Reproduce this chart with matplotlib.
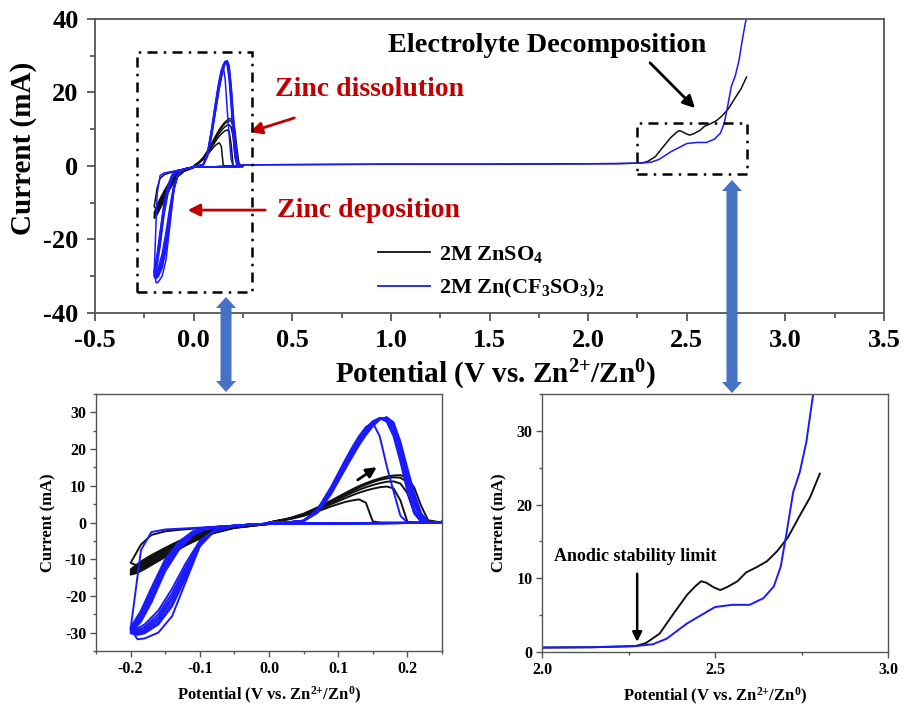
import matplotlib
matplotlib.use("Agg")
import matplotlib.pyplot as plt
from matplotlib.patches import Polygon, Rectangle
from matplotlib.ticker import MultipleLocator

plt.rcParams['font.family'] = ['Liberation Serif', 'DejaVu Serif']
plt.rcParams['font.weight'] = 'bold'
plt.rcParams['mathtext.fontset'] = 'custom'
plt.rcParams['mathtext.rm'] = 'Liberation Serif:bold'
plt.rcParams['mathtext.it'] = 'Liberation Serif:bold:italic'
plt.rcParams['mathtext.bf'] = 'Liberation Serif:bold'
plt.rcParams['mathtext.default'] = 'rm'
plt.rcParams['axes.unicode_minus'] = False

# ---------------- data ----------------
# potential grids of the CV branches (V vs Zn2+/Zn)
CATH_FWD_X = [0.0, -0.03, -0.06, -0.09, -0.11, -0.13, -0.15, -0.17, -0.185, -0.2]
CATH_REV_X = [-0.2, -0.19, -0.18, -0.16, -0.14, -0.12, -0.1, -0.08, -0.05, 0.0]
ANOD_X = [0.0, 0.03, 0.05, 0.07, 0.09, 0.11, 0.12, 0.13, 0.14, 0.15, 0.16,
          0.17, 0.18, 0.19, 0.2, 0.21, 0.22, 0.23, 0.25]
RETURN_X = [0.25, 0.0]
RETURN_I = [-0.1, -0.3]

# 2M ZnSO4, one row per cycle (mA)
ZNSO4_FWD = [
    [-0.3, -0.6, -1.0, -1.4, -1.7, -2.0, -2.4, -3.4, -6.0, -11.0],
    [-0.3, -0.6, -1.2, -2.4, -3.6, -5.1, -6.9, -8.9, -10.6, -12.8],
    [-0.3, -0.6, -1.3, -2.5, -3.8, -5.4, -7.2, -9.3, -11.1, -13.3],
    [-0.3, -0.7, -1.4, -2.7, -4.0, -5.7, -7.6, -9.8, -11.6, -13.8],
    [-0.3, -0.7, -1.4, -2.8, -4.2, -5.9, -7.9, -10.1, -12.0, -14.2],
]
ZNSO4_REV = [
    [-11.0, -11.8, -10.9, -8.3, -6.0, -4.2, -2.8, -1.8, -1.0, -0.4],
    [-12.8, -12.4, -11.5, -9.4, -7.4, -5.5, -3.9, -2.6, -1.3, -0.4],
    [-13.3, -12.8, -11.9, -9.8, -7.7, -5.8, -4.1, -2.7, -1.4, -0.4],
    [-13.8, -13.3, -12.3, -10.1, -8.0, -6.0, -4.3, -2.8, -1.4, -0.4],
    [-14.2, -13.7, -12.7, -10.5, -8.3, -6.2, -4.4, -2.9, -1.5, -0.4],
]
ZNSO4_ANOD = [
    [0.0, 0.9, 1.8, 3.0, 4.4, 5.6, 6.0, 6.3, 5.4, 0.3, 0.0, 0.0, 0.0, 0.0, 0.0, 0.0, 0.0, 0.0, 0.0],
    [0.0, 1.0, 2.0, 3.4, 5.0, 6.6, 7.4, 8.1, 8.7, 9.2, 9.6, 9.8, 9.3, 6.0, 0.2, 0.0, 0.0, 0.0, 0.0],
    [0.0, 1.1, 2.2, 3.7, 5.4, 7.2, 8.1, 8.9, 9.6, 10.2, 10.7, 11.1, 11.2, 10.6, 8.0, 2.5, 0.2, 0.0, 0.0],
    [0.0, 1.1, 2.3, 3.9, 5.7, 7.6, 8.6, 9.5, 10.3, 11.0, 11.6, 12.0, 12.3, 12.2, 11.0, 7.0, 1.5, 0.1, 0.0],
    [0.0, 1.2, 2.4, 4.1, 6.0, 8.0, 9.0, 9.9, 10.7, 11.4, 12.0, 12.5, 12.8, 12.9, 12.2, 9.5, 4.5, 0.6, 0.0],
]

# 2M Zn(CF3SO3)2, one row per cycle (mA)
ZNCF_FWD = [
    [-0.3, -0.6, -1.0, -1.3, -1.5, -1.7, -1.9, -2.6, -7.5, -29.0],
    [-0.3, -0.6, -1.0, -1.3, -2.4, -5.2, -10.0, -17.8, -24.0, -28.6],
    [-0.3, -0.6, -1.0, -1.4, -2.6, -5.6, -10.6, -18.6, -24.6, -29.0],
    [-0.3, -0.6, -1.0, -1.4, -2.8, -6.0, -11.2, -19.4, -25.2, -29.3],
    [-0.3, -0.6, -1.0, -1.5, -3.0, -6.4, -11.8, -20.2, -25.8, -29.6],
    [-0.3, -0.6, -1.1, -1.6, -3.2, -6.9, -12.5, -21.0, -26.4, -29.9],
    [-0.3, -0.6, -1.1, -1.7, -3.5, -7.4, -13.3, -21.8, -27.0, -30.2],
]
ZNCF_REV = [
    [-29.0, -31.8, -31.6, -30.0, -25.5, -16.0, -6.5, -2.4, -0.8, -0.3],
    [-28.6, -28.8, -27.8, -24.0, -18.0, -11.0, -5.0, -2.2, -0.9, -0.3],
    [-29.0, -29.3, -28.5, -25.0, -19.2, -12.0, -5.4, -2.3, -0.9, -0.3],
    [-29.3, -29.7, -29.0, -25.8, -20.2, -12.8, -5.7, -2.4, -0.9, -0.3],
    [-29.6, -30.0, -29.4, -26.5, -21.0, -13.5, -6.0, -2.4, -0.9, -0.3],
    [-29.9, -30.3, -29.8, -27.2, -22.0, -14.2, -6.2, -2.5, -0.9, -0.3],
    [-30.2, -30.6, -30.2, -27.8, -22.8, -15.0, -6.4, -2.5, -0.9, -0.3],
]
ZNCF_ANOD = [
    [0.0, 0.1, 0.5, 3.6, 9.8, 17.0, 20.4, 23.5, 26.0, 27.2, 23.5, 15.5, 8.5, 1.8, 0.0, 0.0, 0.0, 0.0, 0.0],
    [0.0, 0.1, 0.5, 3.4, 9.4, 16.5, 19.9, 23.0, 25.7, 27.6, 28.4, 27.5, 23.5, 16.5, 8.5, 2.5, 0.2, 0.0, 0.0],
    [0.0, 0.1, 0.5, 3.2, 9.0, 16.0, 19.4, 22.6, 25.3, 27.3, 28.5, 28.0, 24.5, 18.0, 10.0, 3.5, 0.4, 0.0, 0.0],
    [0.0, 0.1, 0.5, 3.1, 8.7, 15.6, 19.0, 22.2, 25.0, 27.0, 28.4, 28.3, 25.5, 19.5, 11.5, 4.8, 0.8, 0.0, 0.0],
    [0.0, 0.1, 0.4, 2.9, 8.4, 15.2, 18.6, 21.8, 24.6, 26.8, 28.2, 28.5, 26.2, 20.5, 12.8, 5.8, 1.2, 0.0, 0.0],
    [0.0, 0.1, 0.4, 2.8, 8.1, 14.8, 18.2, 21.4, 24.2, 26.5, 28.1, 28.6, 26.8, 21.3, 13.8, 6.8, 1.8, 0.1, 0.0],
    [0.0, 0.1, 0.4, 2.6, 7.8, 14.5, 17.8, 21.0, 23.8, 26.2, 28.0, 28.7, 27.3, 22.0, 14.8, 8.0, 2.5, 0.2, 0.0],
]

# anodic linear sweeps
ZNSO4_LSV_X = [0.25, 0.6, 1.0, 1.5, 2.0, 2.15, 2.27, 2.30, 2.34, 2.38, 2.42, 2.445, 2.46,
               2.475, 2.495, 2.515, 2.535, 2.565, 2.59, 2.62, 2.65, 2.68, 2.71, 2.745, 2.775, 2.803]
ZNSO4_LSV_I = [0.3, 0.4, 0.5, 0.5, 0.6, 0.65, 0.8, 1.2, 2.5, 5.2, 7.8, 9.0, 9.6,
               9.4, 8.8, 8.4, 8.8, 9.6, 10.8, 11.5, 12.3, 13.7, 15.5, 18.5, 21.0, 24.2]
ZNCF_LSV_X = [0.25, 0.6, 1.0, 1.5, 2.0, 2.15, 2.27, 2.32, 2.36, 2.42, 2.46, 2.5, 2.55,
              2.6, 2.64, 2.67, 2.69, 2.707, 2.726, 2.745, 2.764, 2.784, 2.815]
ZNCF_LSV_I = [0.3, 0.4, 0.5, 0.5, 0.6, 0.65, 0.8, 1.05, 1.8, 3.9, 5.0, 6.1, 6.4,
              6.4, 7.3, 8.9, 11.6, 16.2, 21.7, 24.4, 28.5, 35.1, 44.0]

BLACK = '#111111'
BLUE = '#1a1aff'
RED = '#c00000'
ARROW_BLUE = '#4472c4'
SPINE = '#555555'
XLABEL = 'Potential (V vs. Zn$^{2{+}}$/Zn$^{0}$)'


def cv_cycle(fwd, rev, anod):
    xs = CATH_FWD_X + CATH_REV_X + ANOD_X + RETURN_X
    ys = fwd + rev + anod + RETURN_I
    return xs, ys


def draw_all(ax, lw):
    for f, r, a in zip(ZNSO4_FWD, ZNSO4_REV, ZNSO4_ANOD):
        x, y = cv_cycle(f, r, a)
        ax.plot(x, y, color=BLACK, lw=lw)
    ax.plot(ZNSO4_LSV_X, ZNSO4_LSV_I, color=BLACK, lw=lw)
    for f, r, a in zip(ZNCF_FWD, ZNCF_REV, ZNCF_ANOD):
        x, y = cv_cycle(f, r, a)
        ax.plot(x, y, color=BLUE, lw=lw)
    ax.plot(ZNCF_LSV_X, ZNCF_LSV_I, color=BLUE, lw=lw)


def style_axes(ax, lab_size, spine_w, major_len, minor_len, pad):
    for s in ax.spines.values():
        s.set_color(SPINE)
        s.set_linewidth(spine_w)
    ax.tick_params(which='both', direction='out', colors=SPINE, labelcolor='black',
                   labelsize=lab_size, width=spine_w, pad=pad)
    ax.tick_params(which='major', length=major_len)
    ax.tick_params(which='minor', length=minor_len)


fig = plt.figure(figsize=(9.04, 7.08), dpi=100)

# ---------------- main panel ----------------
ax = fig.add_axes([0.1051, 0.5579, 0.8728, 0.4153])
draw_all(ax, 1.1)
ax.set_xlim(-0.5, 3.5)
ax.set_ylim(-40, 40)
ax.xaxis.set_major_locator(MultipleLocator(0.5))
ax.xaxis.set_minor_locator(MultipleLocator(0.25))
ax.yaxis.set_major_locator(MultipleLocator(20))
ax.yaxis.set_minor_locator(MultipleLocator(10))
ax.xaxis.set_major_formatter(plt.FormatStrFormatter('%.1f'))
style_axes(ax, 19, 1.3, 5.8, 3.5, 6)
ax.set_xlabel(XLABEL, fontsize=21, fontweight='bold')
ax.xaxis.set_label_coords(0.508, -0.152)
ax.set_ylabel('Current (mA)', fontsize=21, fontweight='bold')
ax.yaxis.set_label_coords(-0.074, 0.56)

box_style = dict(fill=False, ec='black', lw=1.8, ls=(0, (4, 2.5, 1, 2.5)), zorder=5)
ax.add_patch(Rectangle((-0.287, -34.3), 0.583, 65.3, **box_style))
ax.add_patch(Rectangle((2.246, -2.2), 0.558, 14.0, **box_style))

ax.text(0.413, 20.7, 'Zinc dissolution', color=RED, fontsize=20, fontweight='bold', va='center')
ax.annotate('', xy=(0.271, 9.0), xytext=(0.524, 13.3),
            arrowprops=dict(arrowstyle='-|>', color=RED, lw=2, mutation_scale=18))
ax.text(0.423, -12.2, 'Zinc deposition', color=RED, fontsize=20, fontweight='bold', va='center')
ax.annotate('', xy=(-0.044, -12.0), xytext=(0.377, -12.0),
            arrowprops=dict(arrowstyle='-|>', color=RED, lw=2, mutation_scale=18))
ax.text(0.985, 32.9, 'Electrolyte Decomposition', color='black', fontsize=20.3,
        fontweight='bold', va='center')
ax.annotate('', xy=(2.552, 15.2), xytext=(2.304, 28.6),
            arrowprops=dict(arrowstyle='-|>', color='black', lw=2, mutation_scale=18))

h1, = ax.plot([], [], color=BLACK, lw=1.3)
h2, = ax.plot([], [], color=BLUE, lw=1.3)
ax.legend([h1, h2], ['2M ZnSO$_4$', '2M Zn(CF$_3$SO$_3$)$_2$'], loc='upper left',
          bbox_to_anchor=(0.359, 0.235), frameon=False, fontsize=16, borderpad=0,
          borderaxespad=0, handlelength=2.35, handletextpad=0.4, labelspacing=0.55)

# ---------------- zoom on Zn plating / stripping ----------------
ax1 = fig.add_axes([0.1062, 0.0805, 0.3827, 0.363])
draw_all(ax1, 1.4)
ax1.set_xlim(-0.25, 0.25)
ax1.set_ylim(-35, 35)
ax1.xaxis.set_major_locator(MultipleLocator(0.1))
ax1.xaxis.set_minor_locator(MultipleLocator(0.05))
ax1.yaxis.set_major_locator(MultipleLocator(10))
ax1.yaxis.set_minor_locator(MultipleLocator(5))
ax1.xaxis.set_major_formatter(plt.FormatStrFormatter('%.1f'))
style_axes(ax1, 11.5, 1.0, 4, 2, 3)
ax1.set_xlabel(XLABEL, fontsize=12, fontweight='bold', labelpad=6)
ax1.set_ylabel('Current (mA)', fontsize=12, fontweight='bold', labelpad=6)
ax1.annotate('', xy=(0.159, 15.5), xytext=(0.125, 11.2),
             arrowprops=dict(arrowstyle='-|>', color='black', lw=2, mutation_scale=15))

# ---------------- zoom on anodic stability ----------------
ax2 = fig.add_axes([0.5996, 0.0791, 0.3827, 0.3644])
draw_all(ax2, 1.4)
ax2.set_xlim(2.0, 3.0)
ax2.set_ylim(0, 35)
ax2.xaxis.set_major_locator(MultipleLocator(0.5))
ax2.xaxis.set_minor_locator(MultipleLocator(0.25))
ax2.yaxis.set_major_locator(MultipleLocator(10))
ax2.yaxis.set_minor_locator(MultipleLocator(5))
ax2.xaxis.set_major_formatter(plt.FormatStrFormatter('%.1f'))
style_axes(ax2, 11.5, 1.0, 4, 2, 3)
ax2.set_xlabel(XLABEL, fontsize=12, fontweight='bold', labelpad=6)
ax2.set_ylabel('Current (mA)', fontsize=12, fontweight='bold', labelpad=6)
ax2.text(2.035, 12.9, 'Anodic stability limit', fontsize=13, fontweight='bold', va='center')
ax2.annotate('', xy=(2.275, 1.0), xytext=(2.275, 11.0),
             arrowprops=dict(arrowstyle='-|>', color='black', lw=1.8, mutation_scale=14))

# ---------------- block arrows linking the panels ----------------
ov = fig.add_axes([0, 0, 1, 1], zorder=10)
ov.set_xlim(0, 904)
ov.set_ylim(708, 0)
ov.axis('off')
ov.patch.set_alpha(0)


def block_arrow(x, y_top, y_bot, hw=10, sw=5.5, hl=11):
    pts = [(x, y_top), (x + hw, y_top + hl), (x + sw, y_top + hl), (x + sw, y_bot - hl),
           (x + hw, y_bot - hl), (x, y_bot), (x - hw, y_bot - hl), (x - sw, y_bot - hl),
           (x - sw, y_top + hl), (x - hw, y_top + hl)]
    ov.add_patch(Polygon(pts, closed=True, fc=ARROW_BLUE, ec='none'))


block_arrow(226, 297, 392)
block_arrow(732, 180, 393)

fig.savefig('out.png', dpi=100)
